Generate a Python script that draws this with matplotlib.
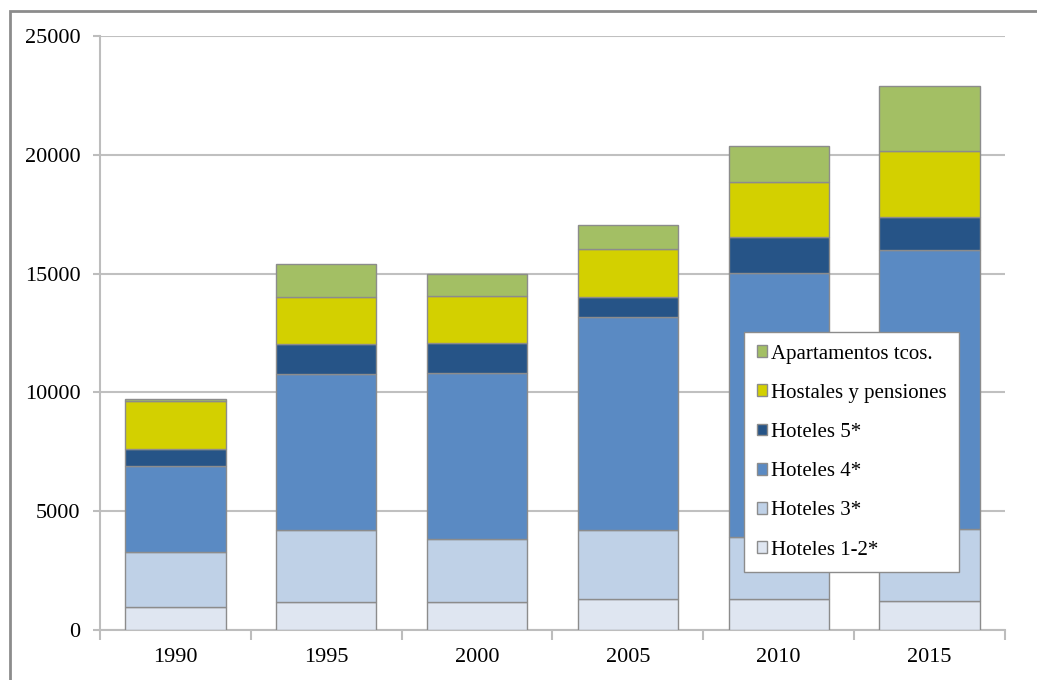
import matplotlib.pyplot as plt
from matplotlib.patches import Rectangle

# Datos (plazas por tipo de alojamiento)
years = ["1990", "1995", "2000", "2005", "2010", "2015"]
hoteles_12 = [980, 1170, 1160, 1300, 1300, 1200]
hoteles_3 = [2320, 3040, 2670, 2900, 2630, 3030]
hoteles_4 = [3600, 6560, 6980, 8960, 11110, 11770]
hoteles_5 = [700, 1250, 1250, 840, 1490, 1400]
hostales = [2050, 2000, 2010, 2050, 2340, 2780]
apartamentos = [60, 1400, 900, 990, 1480, 2720]

series = [
    ("Hoteles 1-2*", hoteles_12, "#dfe6f1"),
    ("Hoteles 3*", hoteles_3, "#bfd1e7"),
    ("Hoteles 4*", hoteles_4, "#5a8ac3"),
    ("Hoteles 5*", hoteles_5, "#265487"),
    ("Hostales y pensiones", hostales, "#d3d000"),
    ("Apartamentos tcos.", apartamentos, "#a3bf64"),
]

plt.rcParams['font.family'] = ['Liberation Serif', 'DejaVu Serif']

fig = plt.figure(figsize=(10.37, 6.8), dpi=100)
ax = fig.add_axes([100 / 1037, 50 / 680, 905 / 1037, 594 / 680])

# Marco exterior
fig.patches.append(Rectangle((10 / 1037, -0.1), 1.2, (680 - 11) / 680 + 0.1,
                             transform=fig.transFigure, fill=False,
                             edgecolor="#8c8c8c", linewidth=2))

x = range(len(years))
bottom = [0] * len(years)
handles = []
for name, vals, color in series:
    b = ax.bar(x, vals, width=0.665, bottom=bottom, color=color,
               edgecolor="#8c8c8c", linewidth=1, label=name, zorder=3)
    handles.append(b)
    bottom = [bo + v for bo, v in zip(bottom, vals)]

ax.set_xlim(-0.5, len(years) - 0.5)
ax.set_ylim(0, 25000)
ax.set_yticks(range(0, 25001, 5000))
ax.set_xticks(list(x))
ax.set_xticklabels(years)
ax.set_xticks([i - 0.5 for i in range(len(years) + 1)], minor=True)

ax.yaxis.grid(True, color="#c0c0c0", linewidth=1.5, zorder=0)
for s in ["top", "right"]:
    ax.spines[s].set_visible(False)
for s in ["left", "bottom"]:
    ax.spines[s].set_color("#bdbdbd")
    ax.spines[s].set_linewidth(1.5)

ax.tick_params(axis="y", length=5, color="#bdbdbd", width=1.5, labelsize=16, pad=9)
ax.tick_params(axis="x", which="major", length=0, labelsize=16, pad=13)
ax.tick_params(axis="x", which="minor", length=7, color="#bdbdbd", width=1.5)

leg = ax.legend(handles[::-1], [s[0] for s in series][::-1],
                loc="upper left", bbox_to_anchor=(644 / 905, (630 - 332) / 594),
                fontsize=15, frameon=True, fancybox=False, framealpha=1,
                handlelength=0.5, handleheight=0.5, handletextpad=0.2,
                labelspacing=0.97, borderpad=0.6, borderaxespad=0)
leg.get_frame().set_edgecolor("#8c8c8c")
leg.get_frame().set_linewidth(1)
leg.set_zorder(5)

fig.savefig("out.png", dpi=100)
